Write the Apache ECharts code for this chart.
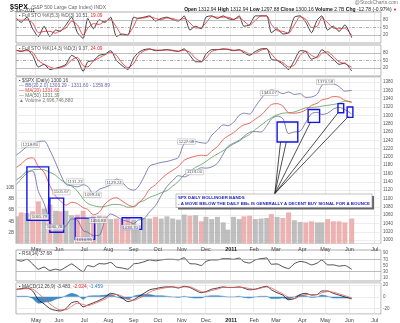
<!DOCTYPE html>
<html><head><meta charset="utf-8">
<script src="https://cdn.jsdelivr.net/npm/echarts@6/dist/echarts.min.js"></script>
<style>html,body{margin:0;padding:0;background:#fff}#c{width:400px;height:323px}</style>
</head><body><div id="c"></div>
<script>
// ---- weekly data points (placed mid-week) ----
const weeks = ['2010-04-08','2010-04-14','2010-04-21','2010-04-28','2010-05-05','2010-05-12','2010-05-19','2010-05-26','2010-06-02','2010-06-09','2010-06-16','2010-06-23','2010-06-30','2010-07-07','2010-07-14','2010-07-21','2010-07-28','2010-08-04','2010-08-11','2010-08-18','2010-08-25','2010-09-01','2010-09-08','2010-09-15','2010-09-22','2010-09-29','2010-10-06','2010-10-13','2010-10-20','2010-10-27','2010-11-03','2010-11-10','2010-11-17','2010-11-24','2010-12-01','2010-12-08','2010-12-15','2010-12-22','2010-12-29','2011-01-05','2011-01-12','2011-01-19','2011-01-26','2011-02-02','2011-02-09','2011-02-16','2011-02-23','2011-03-02','2011-03-09','2011-03-16','2011-03-23','2011-03-30','2011-04-06','2011-04-13','2011-04-20','2011-04-27','2011-05-04','2011-05-11','2011-05-18','2011-05-25','2011-06-03'];
const open  = [1187,1194,1192,1217,1188,1111,1136,1085,1090,1065,1092,1121,1077,1029,1077,1065,1102,1107,1122,1080,1073,1062,1103,1110,1126,1149,1144,1165,1177,1184,1185,1226,1198,1196,1189,1225,1243,1244,1257,1258,1272,1293,1283,1276,1311,1329,1341,1322,1320,1302,1280,1314,1333,1328,1320,1338,1365,1341,1337,1331,1331];
const high  = [1194,1213,1217,1220,1189,1173,1141,1104,1106,1092,1120,1131,1081,1078,1100,1103,1120,1128,1130,1100,1074,1105,1111,1131,1149,1159,1168,1184,1190,1196,1227,1226,1200,1206,1225,1241,1247,1259,1260,1278,1294,1297,1303,1311,1331,1344,1341,1333,1325,1304,1315,1337,1340,1328,1341,1364,1371,1360,1347,1334,1345];
const low   = [1182,1186,1192,1186,1066,1111,1056,1041,1060,1042,1086,1068,1011,1028,1063,1056,1088,1107,1076,1070,1040,1040,1092,1110,1122,1138,1132,1160,1159,1171,1180,1194,1173,1185,1174,1220,1232,1241,1249,1257,1262,1271,1273,1276,1311,1320,1294,1302,1291,1249,1278,1303,1322,1309,1295,1330,1318,1334,1321,1311,1297];
const close = [1194,1192,1217,1187,1111,1136,1088,1089,1065,1092,1118,1077,1023,1078,1065,1103,1102,1122,1079,1072,1065,1105,1110,1126,1149,1146,1165,1176,1183,1183,1226,1199,1200,1189,1225,1240,1244,1257,1258,1272,1293,1283,1276,1311,1329,1343,1320,1321,1304,1279,1314,1332,1328,1320,1337,1364,1340,1338,1333,1331,1300];
const volume = [4.9,5.6,5.5,5.8,7.6,6.3,7.0,5.9,5.8,5.9,5.1,5.2,5.9,4.6,4.9,5.0,4.9,4.4,4.5,4.3,4.6,4.3,3.3,4.6,4.5,4.8,4.5,4.9,4.5,4.3,5.2,5.0,5.1,4.0,4.8,4.4,4.8,3.8,2.5,4.8,4.4,4.9,5.0,4.4,4.5,4.6,5.3,4.8,4.6,5.6,4.2,3.9,3.8,4.0,3.8,3.8,4.4,4.0,4.0,3.8,4.5];
const bbUpper = [1205,1213,1225,1230,1237,1238,1216,1186,1160,1134,1131,1128,1133,1129,1111,1122,1127,1133,1147,1139,1125,1120,1128,1152,1178,1183,1187,1189,1193,1199,1232,1238,1237,1234,1233,1252,1265,1277,1275,1283,1300,1305,1303,1321,1340,1355,1361,1358,1352,1356,1350,1352,1343,1344,1351,1372,1375,1375,1369,1358,1360];
const bbLower = [1145,1153,1165,1166,1117,1088,1046,1026,1030,1034,1051,1048,1023,1019,1011,1012,1047,1063,1057,1049,1045,1040,1048,1052,1068,1083,1107,1129,1143,1155,1152,1158,1167,1174,1173,1176,1185,1207,1225,1233,1240,1249,1259,1261,1260,1275,1291,1298,1292,1256,1260,1262,1283,1304,1307,1302,1305,1315,1319,1314,1303];
const ma20 = [1175,1183,1195,1198,1177,1163,1131,1106,1095,1084,1091,1088,1078,1074,1061,1067,1087,1098,1102,1094,1085,1080,1088,1102,1123,1133,1147,1159,1168,1177,1192,1198,1202,1204,1203,1214,1225,1242,1250,1258,1270,1277,1281,1291,1300,1315,1326,1328,1322,1306,1305,1307,1313,1324,1329,1337,1340,1345,1344,1336,1332];
const ma50 = [1134,1147,1161,1169,1170,1169,1163,1156,1146,1137,1130,1118,1099,1088,1083,1080,1081,1085,1086,1084,1079,1081,1090,1095,1103,1108,1114,1119,1130,1141,1157,1166,1175,1182,1189,1199,1207,1215,1222,1231,1238,1246,1254,1266,1276,1287,1294,1301,1305,1306,1308,1313,1318,1319,1320,1322,1324,1326,1329,1334,1331];
const sto1K = [85,70,90,45,15,55,15,40,35,60,90,30,8,85,45,80,70,90,15,25,20,90,85,90,95,75,85,90,80,75,95,40,55,45,90,95,85,95,85,80,95,55,60,95,95,95,30,45,25,30,90,95,70,30,80,95,40,55,35,60,10.5];
const sto1D = [80,78,80,68,30,35,35,28,38,48,75,60,20,47,65,62,75,80,52,20,22,55,87,87,92,85,80,87,85,78,85,68,48,50,68,92,90,90,90,82,88,75,58,78,95,95,62,38,35,28,60,92,82,50,55,88,68,48,45,48,19];
const sto2K = [90,85,92,70,25,35,15,20,25,35,70,55,8,45,50,70,75,88,50,30,15,60,80,92,95,88,90,92,88,85,95,70,45,45,75,92,92,95,93,88,92,80,70,85,95,96,55,50,35,15,50,88,85,55,65,92,75,55,35,40,9];
const sto2D = [88,87,88,82,50,35,25,18,22,30,52,62,30,25,48,60,72,82,70,40,22,38,70,87,93,91,89,91,90,86,90,82,58,45,60,85,92,93,94,90,90,86,75,78,90,95,75,52,42,25,32,70,86,70,60,78,84,65,45,38,24];
const rsi = [68,64,70,55,38,45,34,38,35,45,55,42,30,50,46,56,55,60,45,42,38,55,57,62,68,65,68,70,70,68,75,56,55,50,63,68,68,72,72,70,74,62,58,68,72,74,54,55,46,40,56,63,60,52,58,68,52,52,48,50,37.7];
const macd = [13,14,15,10,-5,-12,-20,-23,-24,-20,-10,-8,-17,-14,-10,-6,-1,6,4,-2,-8,-5,0,6,12,14,16,17,17,15,18,16,11,7,9,13,15,17,16,16,17,15,12,13,16,18,12,7,3,-5,-3,4,6,3,4,10,10,6,3,0,-3.5];
const signal = [12,13,14,13,6,-3,-12,-19,-22,-22,-16,-11,-13,-15,-12,-8,-4,2,4,1,-4,-6,-3,2,8,12,14,16,17,16,17,17,13,9,8,11,13,16,16,16,16,16,14,13,15,17,15,10,5,-1,-3,1,4,4,4,7,9,8,5,2,-2];
const hist = [1,1,1,-3,-11,-9,-8,-4,-2,2,6,3,-4,1,2,2,3,4,0,-3,-4,1,3,4,4,2,2,1,0,-1,1,-1,-2,-2,1,2,2,1,0,0,1,-1,-2,0,1,1,-3,-3,-2,-4,0,3,2,-1,0,3,1,-2,-2,-2,-1.5];
// price labels at swing highs / lows
const hiDates = ['2010-04-26','2010-06-03','2010-06-21','2010-07-13','2010-08-09','2010-11-05','2011-02-18','2011-05-02'];
const hiVals  = [1219.80,1105.67,1131.23,1099.46,1129.24,1227.08,1344.07,1370.58];
const loDates = ['2010-05-06','2010-05-25','2010-07-01','2010-07-20','2010-08-27','2010-11-16'];
const loVals  = [1065.79,1040.78,1010.91,1056.88,1039.70,1173.00];
// annotation boxes and pointer lines (date / price)
const boxStart = ['2010-04-21','2010-05-19','2010-06-21','2010-08-18','2011-03-02','2011-04-08','2011-05-17','2011-05-27'];
const boxEnd   = ['2010-05-18','2010-06-07','2010-07-15','2010-09-13','2011-03-28','2011-04-25','2011-05-24','2011-06-06'];
const boxTop   = [1176,1101,1053,1054,1284,1314,1328,1320];
const boxBot   = [1048,1019,1002,1026,1236,1283,1306,1295];
const ptrFrom  = ['2011-02-28',1112];
const ptrToDates = ['2011-03-07','2011-03-14','2011-04-12','2011-05-17','2011-05-31'];
const ptrToVals  = [1236,1236,1283,1306,1297];

// ---- trading-day category axis ----
const holidays = ['2010-05-31','2010-07-05','2010-09-06','2010-11-25','2010-12-24','2011-01-17','2011-02-21','2011-04-22','2011-05-30','2011-07-04'];
const days = [];
for (let t = Date.UTC(2010,3,8); t <= Date.UTC(2011,6,11); t += 86400000) {
  const d = new Date(t), wd = d.getUTCDay();
  if (wd === 0 || wd === 6) continue;
  const s = d.toISOString().slice(0,10);
  if (holidays.indexOf(s) >= 0) continue;
  days.push(s);
}
const monthStart = new Set();
let pm = days[0].slice(0,7);
days.forEach((d,i)=>{ const m=d.slice(0,7); if(m!==pm){monthStart.add(i); pm=m;} });
const mon = ['','Feb','Mar','Apr','May','Jun','Jul','Aug','Sep','Oct','Nov','Dec'];
function monLabel(v){ const m=+v.slice(5,7); return m===1 ? '{b|'+v.slice(0,4)+'}' : mon[m-1]; }

const FONT = 'Liberation Sans, Arial, sans-serif';
const L = 16, W = 365;
const grids = [
  {top:12, height:31},
  {top:45, height:31},
  {top:77, height:166.5},
  {top:250, height:31},
  {top:283, height:32}
].map(g=>Object.assign({left:L, width:W, show:true, borderColor:'#9a9a9a', borderWidth:0.8, backgroundColor:'#fff'}, g));

function xa(gi, lab){
  return {type:'category', gridIndex:gi, data:days, boundaryGap:true,
    axisLine:{show:false}, axisTick:{show:false},
    axisLabel:{show:lab, interval:(i)=>monthStart.has(i), formatter:monLabel, fontSize:5.5, color:'#444', margin:3, fontFamily:FONT,
      rich:{b:{fontWeight:'bold', fontSize:5.5, color:'#222', fontFamily:FONT}}},
    splitLine:{show:true, interval:(i)=>monthStart.has(i), lineStyle:{color:'#e6e6e6', width:0.8}}};
}
const lblStyle = {fontSize:4.5, color:'#555', margin:2, fontFamily:FONT};
function stoAxis(gi){
  return {type:'value', gridIndex:gi, position:'right', min:-10, max:110, interval:30,
    axisLine:{show:false}, axisTick:{show:false}, splitLine:{show:false},
    axisLabel:Object.assign({formatter:v=>(v>0&&v<100)?String(v):''}, lblStyle)};
}
const refLines = (vals, dashedVal) => ({symbol:'none', silent:true, animation:false, label:{show:false},
  lineStyle:{color:'#a0a0a0', width:0.7, type:'solid'},
  data: vals.map(v=>v===dashedVal ? {yAxis:v, lineStyle:{type:[3,1.5,1,1.5], color:'#888'}} : {yAxis:v})});

const pairs = a => weeks.map((w,i)=>[w,a[i]]);
const lineS = (name, arr, xi, yi, color, w, extra) => Object.assign({name, type:'line', xAxisIndex:xi, yAxisIndex:yi,
  data:pairs(arr), symbol:'none', smooth:0.3, lineStyle:{color, width:w||0.8}, itemStyle:{color}, z:3}, extra||{});

const option = {
  animation:false,
  backgroundColor:'#fff',
  textStyle:{fontFamily:FONT},
  grid:grids,
  xAxis:[xa(0,false), xa(1,false), xa(2,true), xa(3,false), xa(4,true)],
  yAxis:[
    stoAxis(0), stoAxis(1),
    {type:'value', gridIndex:2, position:'right', min:992, max:1392, splitNumber:20, minInterval:20, maxInterval:20,
      axisLine:{show:false}, axisTick:{show:false}, showMinLabel:false, showMaxLabel:false,
      splitLine:{show:true, lineStyle:{color:'#e8e8e8', width:0.8}},
      axisLabel:Object.assign({formatter:v=>(v%20===0&&v>=1000&&v<=1380)?String(v):''}, lblStyle)},
    {type:'value', gridIndex:2, position:'left', min:0, max:30, interval:2,
      axisLine:{show:false}, axisTick:{show:false}, splitLine:{show:false},
      axisLabel:Object.assign({formatter:v=>(v>=2&&v<=10)?v+'B':''}, lblStyle)},
    {type:'value', gridIndex:3, position:'right', min:0, max:100, interval:10,
      axisLine:{show:false}, axisTick:{show:false}, splitLine:{show:false},
      axisLabel:Object.assign({formatter:v=>(v%20===10)?String(v):''}, lblStyle)},
    {type:'value', gridIndex:4, position:'right', min:-29.2, max:23.6, splitNumber:3, minInterval:20, maxInterval:20,
      axisLine:{show:false}, axisTick:{show:false}, showMinLabel:false, showMaxLabel:false,
      splitLine:{show:true, lineStyle:{color:'#e8e8e8', width:0.8}},
      axisLabel:Object.assign({formatter:v=>(v%20===0)?String(v):''}, lblStyle)}
  ],
  series:[
    lineS('K1', sto1K, 0, 0, '#111', 0.8, {smooth:0.2, markLine:refLines([20,50,80],50)}),
    lineS('D1', sto1D, 0, 0, '#e8232a', 0.8, {smooth:0.2}),
    lineS('K2', sto2K, 1, 1, '#111', 0.8, {smooth:0.2, markLine:refLines([20,50,80],50)}),
    lineS('D2', sto2D, 1, 1, '#e8232a', 0.8, {smooth:0.2}),
    {name:'vol', type:'bar', xAxisIndex:2, yAxisIndex:3, data:pairs(volume), barWidth:5, z:1,
      itemStyle:{color:(p)=> (p.dataIndex>0 && close[p.dataIndex]<close[p.dataIndex-1]) ? 'rgba(232,160,160,0.8)' : 'rgba(170,170,170,0.75)'}},
    lineS('BBu', bbUpper, 2, 2, '#6464a8', 0.8),
    lineS('BBl', bbLower, 2, 2, '#6464a8', 0.8),
    lineS('MA50', ma50, 2, 2, '#5c9a5c', 0.8),
    lineS('MA20', ma20, 2, 2, '#e4453f', 0.8),
    {name:'SPX', type:'candlestick', xAxisIndex:2, yAxisIndex:2, barWidth:3.2, z:4,
      data: weeks.map((w,i)=>[w, open[i], close[i], low[i], high[i]]),
      itemStyle:{color:'#222', color0:'#e01010', borderColor:'#222', borderColor0:'#e01010', borderWidth:0.8},
      markArea:{silent:true, z:6, itemStyle:{color:'rgba(0,0,0,0)', borderColor:'#1414e6', borderWidth:1.4},
        data: boxStart.map((s,i)=>[{xAxis:s, yAxis:boxTop[i]},{xAxis:boxEnd[i], yAxis:boxBot[i]}])},
      markLine:{silent:true, symbol:'none', label:{show:false}, z:6, lineStyle:{color:'#222', width:0.8, type:'solid'},
        data: ptrToDates.map((d,i)=>[{coord:ptrFrom},{coord:[d, ptrToVals[i]]}])}
    },
    {name:'hiLbl', type:'scatter', xAxisIndex:2, yAxisIndex:2, symbolSize:0, z:7, data:hiDates.map((d,i)=>[d,hiVals[i]]),
      label:{show:true, position:'top', distance:1.5, formatter:p=>p.value[1].toFixed(2), fontSize:4.3, color:'#333', fontFamily:FONT,
        backgroundColor:'rgba(255,255,255,0.85)', borderColor:'#aaa', borderWidth:0.5, padding:[0.5,1]}},
    {name:'loLbl', type:'scatter', xAxisIndex:2, yAxisIndex:2, symbolSize:0, z:7, data:loDates.map((d,i)=>[d,loVals[i]]),
      label:{show:true, position:'bottom', distance:1.5, formatter:p=>p.value[1].toFixed(2), fontSize:4.3, color:'#333', fontFamily:FONT,
        backgroundColor:'rgba(255,255,255,0.85)', borderColor:'#aaa', borderWidth:0.5, padding:[0.5,1]}},
    lineS('RSI', rsi, 3, 4, '#222', 0.8, {smooth:0.2, markLine:refLines([30,70])}),
    lineS('hist', hist, 4, 5, '#2f7fbf', 0.5, {smooth:0.2, areaStyle:{color:'#2f7fbf', opacity:0.9}, z:2}),
    lineS('MACD', macd, 4, 5, '#111', 0.8),
    lineS('sig', signal, 4, 5, '#ef5a5a', 0.8)
  ],
  graphic:[
    {type:'text', x:10, y:1.5, style:{text:'{a|$SPX} {g|(S&P 500 Large Cap Index) INDX}', rich:{a:{font:'bold 7px '+FONT, fill:'#111'}, g:{font:'5px '+FONT, fill:'#666'}}}},
    {type:'text', x:10, y:8.5, style:{text:'3-Jun-2011', font:'5px '+FONT, fill:'#333'}},
    {type:'text', x:398, y:0.5, style:{text:'@StockCharts.com', font:'5px '+FONT, fill:'#777', align:'right'}},
    {type:'text', x:397, y:7.5, style:{align:'right', text:'{b|Open} 1312.94 {b|High} 1312.94 {b|Low} 1297.88 {b|Close} 1300.16 {b|Volume} 2.7B {b|Chg} -12.78 (-0.97%) {r|▼}',
      font:'5px '+FONT, fill:'#222', rich:{b:{font:'bold 5px '+FONT, fill:'#111'}, r:{font:'4px '+FONT, fill:'#d00'}}}},
    {type:'text', x:19, y:13.5, z:10, style:{text:'▪ Full STO %K(5,3) %D(3) 10.51, {r|19.09}', font:'4.8px '+FONT, fill:'#555', rich:{r:{font:'4.8px '+FONT, fill:'#e8232a'}}}},
    {type:'text', x:19, y:46.5, z:10, style:{text:'▪ Full STO %K(14,3) %D(3) 9.37, {r|24.09}', font:'4.8px '+FONT, fill:'#555', rich:{r:{font:'4.8px '+FONT, fill:'#e8232a'}}}},
    {type:'text', x:19, y:78, z:10, style:{text:'▪ $SPX (Daily) 1300.16', font:'4.8px '+FONT, fill:'#444'}},
    {type:'text', x:19, y:83, z:10, style:{text:'— BB(20,2.0) 1303.29 - 1331.60 - 1359.89', font:'4.8px '+FONT, fill:'#6464a8'}},
    {type:'text', x:19, y:88, z:10, style:{text:'— MA(20) 1331.60', font:'4.8px '+FONT, fill:'#e4453f'}},
    {type:'text', x:19, y:93, z:10, style:{text:'— MA(50) 1331.39', font:'4.8px '+FONT, fill:'#5c7a5c'}},
    {type:'text', x:19, y:98, z:10, style:{text:'▲ Volume 2,696,746,880', font:'4.8px '+FONT, fill:'#777'}},
    {type:'text', x:19, y:251.5, z:10, style:{text:'▪ RSI(14) 37.68', font:'4.8px '+FONT, fill:'#444'}},
    {type:'text', x:19, y:284.5, z:10, style:{text:'▪ MACD(12,26,9) -3.483, {r|-2.024}, {u|-1.459}', font:'4.8px '+FONT, fill:'#444',
      rich:{r:{font:'4.8px '+FONT, fill:'#e8232a'}, u:{font:'4.8px '+FONT, fill:'#2f7fbf'}}}},
    {type:'rect', z:20, shape:{x:178, y:196, width:196, height:13.5}, style:{fill:'#666'}},
    {type:'rect', z:21, shape:{x:176, y:194, width:196, height:13.5}, style:{fill:'#fff', stroke:'#999', lineWidth:0.6}},
    {type:'text', z:22, x:178, y:195.5, style:{text:'SPX DAILY BOLLINGER BANDS', font:'bold 4.4px '+FONT, fill:'#2222cc'}},
    {type:'text', z:22, x:178, y:201.5, style:{text:'- A MOVE BELOW THE DAILY BBs IS GENERALLY A DECENT BUY SIGNAL FOR A BOUNCE', font:'bold 4.4px '+FONT, fill:'#2222cc'}}
  ]
};
const chart = echarts.init(document.getElementById('c'));
chart.setOption(option);
</script></body></html>
